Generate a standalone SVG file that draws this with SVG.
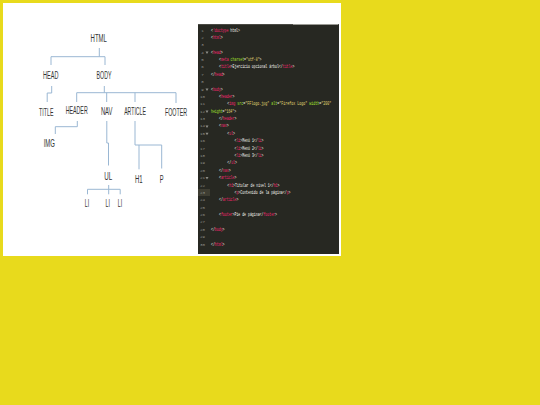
<svg xmlns="http://www.w3.org/2000/svg" width="540" height="405" viewBox="0 0 540 405">
<style>
.n{font-family:"Liberation Sans",Arial,sans-serif;font-size:11.5px;fill:#333333;text-anchor:middle}
.c{stroke:#9ab7d3;stroke-width:1;fill:none}
.code text{font-family:"Liberation Mono","DejaVu Sans Mono",monospace;font-size:4.6px;fill:#f8f8f2}
.ln{font-family:"Liberation Mono","DejaVu Sans Mono",monospace;font-size:4.2px;fill:#8f908a;text-anchor:middle}
.code text.t{fill:#f92672}
.code text.a{fill:#a6e22e}
.code text.s{fill:#e6db74}
</style>
<rect x="0" y="0" width="540" height="405" fill="#e8da1c"/>
<rect x="3" y="3" width="338" height="253" fill="#ffffff"/>

<g id="connectors">
<path class="c" d="M99.3 48 V56.7 M51 56.7 H105 M51 56.7 V65 M105 56.7 V65"/>
<path class="c" d="M51.7 86 V93 H47.2 V102"/>
<path class="c" d="M104.3 86 V92.7 M76.7 92.7 H176 M76.7 92.7 V102 M106.7 92.7 V102 M135 92.7 V102 M176 92.7 V103"/>
<path class="c" d="M77.3 121 V126.7 H55.3 V134"/>
<path class="c" d="M106.8 121 V143 H108.5 V165.5"/>
<path class="c" d="M135 121 V145 H161.7 V168.5 M139 145 V169.3"/>
<path class="c" d="M108.7 185 V189.3 M87.5 189.3 H120.2 M87.5 189.3 V194.3 M108.7 189.3 V194.3 M120.2 189.3 V194.3"/>
</g>

<g id="html" transform="translate(98.7 41.6) scale(0.52 1)"><text class="n">HTML</text></g>
<g id="head" transform="translate(50.7 79.1) scale(0.48 1)"><text class="n">HEAD</text></g>
<g id="body" transform="translate(104 79) scale(0.46 1)"><text class="n">BODY</text></g>
<g id="title" transform="translate(46.3 115.8) scale(0.46 1)"><text class="n">TITLE</text></g>
<g id="header" transform="translate(76.7 114.1) scale(0.46 1)"><text class="n">HEADER</text></g>
<g id="nav" transform="translate(106.7 114.8) scale(0.51 1)"><text class="n">NAV</text></g>
<g id="article" transform="translate(135 115.1) scale(0.45 1)"><text class="n">ARTICLE</text></g>
<g id="footer" transform="translate(176 116.1) scale(0.465 1)"><text class="n">FOOTER</text></g>
<g id="img" transform="translate(49.3 147.4) scale(0.52 1)"><text class="n">IMG</text></g>
<g id="ul" transform="translate(108.3 180.1) scale(0.54 1)"><text class="n">UL</text></g>
<g id="h1" transform="translate(138.7 183.1) scale(0.52 1)"><text class="n">H1</text></g>
<g id="p" transform="translate(161.7 183.1) scale(0.5 1)"><text class="n">P</text></g>
<g id="li1" transform="translate(87 207.4) scale(0.45 1)"><text class="n">LI</text></g>
<g id="li2" transform="translate(107.7 207.4) scale(0.45 1)"><text class="n">LI</text></g>
<g id="li3" transform="translate(120 207.4) scale(0.45 1)"><text class="n">LI</text></g>

<g id="code-panel">
<rect x="198" y="24" width="141" height="230" fill="#272822"/>
<rect x="198" y="24" width="141" height="1" fill="#4a4a44"/>
<rect x="293" y="24" width="45" height="1" fill="#9a9a94"/>
<rect x="198" y="189" width="12" height="7" fill="#3e3d32"/>
<g class="ln">
<text x="202.5" y="31.5">1</text><text x="202.5" y="38.9">2</text><text x="202.5" y="46.3">3</text>
<text x="202.5" y="53.6">4</text><text x="202.5" y="61.0">5</text><text x="202.5" y="68.4">6</text>
<text x="202.5" y="75.8">7</text><text x="202.5" y="83.2">8</text><text x="202.5" y="90.5">9</text>
<text x="202.5" y="97.9">10</text><text x="202.5" y="105.3">11</text><text x="202.5" y="112.7">12</text>
<text x="202.5" y="120.1">13</text><text x="202.5" y="127.4">14</text><text x="202.5" y="134.8">15</text>
<text x="202.5" y="142.2">16</text><text x="202.5" y="149.6">17</text><text x="202.5" y="157.0">18</text>
<text x="202.5" y="164.3">19</text><text x="202.5" y="171.7">20</text><text x="202.5" y="179.1">21</text>
<text x="202.5" y="186.5">22</text><text x="202.5" y="193.8">23</text><text x="202.5" y="201.2">24</text>
<text x="202.5" y="208.6">25</text><text x="202.5" y="216.0">26</text><text x="202.5" y="223.4">27</text>
<text x="202.5" y="230.7">28</text><text x="202.5" y="238.1">29</text><text x="202.5" y="245.5">30</text>
</g>
<g fill="#8f908a">
<polygon points="205.5,51.5 208.5,51.5 207,54"/>
<polygon points="205.5,88.5 208.5,88.5 207,91"/>
<polygon points="205.5,110.6 208.5,110.6 207,113.1"/>
<polygon points="205.5,125.4 208.5,125.4 207,127.9"/>
<polygon points="205.5,132.8 208.5,132.8 207,135.3"/>
<polygon points="205.5,177.1 208.5,177.1 207,179.6"/>
</g>
<g class="code">
<g transform="translate(211 31.5) scale(0.7 1)"><text x="0">&lt;</text><text class="t" x="2.76">!doctype</text><text x="27.6">html&gt;</text></g>
<g transform="translate(211 38.9) scale(0.7 1)"><text x="0">&lt;</text><text class="t" x="2.76">html</text><text x="13.8">&gt;</text></g>
<g transform="translate(211 53.6) scale(0.7 1)"><text x="0">&lt;</text><text class="t" x="2.76">head</text><text x="13.8">&gt;</text></g>
<g transform="translate(219 61.0) scale(0.7 1)"><text x="0">&lt;</text><text class="t" x="2.76">meta</text><text class="a" x="16.56">charset</text><text x="35.88">=</text><text class="s" x="38.64">"utf-8"</text><text x="57.96">&gt;</text></g>
<g transform="translate(219 68.4) scale(0.7 1)"><text x="0">&lt;</text><text class="t" x="2.76">title</text><text x="16.56">&gt;Ejercicio opcional árbol&lt;/</text><text class="t" x="91.08">title</text><text x="104.88">&gt;</text></g>
<g transform="translate(211 75.8) scale(0.7 1)"><text x="0">&lt;/</text><text class="t" x="5.52">head</text><text x="16.56">&gt;</text></g>
<g transform="translate(211 90.5) scale(0.7 1)"><text x="0">&lt;</text><text class="t" x="2.76">body</text><text x="13.8">&gt;</text></g>
<g transform="translate(219 97.9) scale(0.7 1)"><text x="0">&lt;</text><text class="t" x="2.76">header</text><text x="19.32">&gt;</text></g>
<g transform="translate(227.3 105.3) scale(0.725 1)"><text x="0">&lt;</text><text class="t" x="2.76">img</text><text class="a" x="13.8">src</text><text x="22.08">=</text><text class="s" x="24.84">"FFlogo.jpg"</text><text class="a" x="60.72">alt</text><text x="69">=</text><text class="s" x="71.76">"Firefox Logo"</text><text class="a" x="113.16">width</text><text x="126.96">=</text><text class="s" x="129.72">"200"</text></g>
<g transform="translate(211 112.7) scale(0.7 1)"><text class="a" x="0">height</text><text x="16.56">=</text><text class="s" x="19.32">"164"</text><text x="33.12">&gt;</text></g>
<g transform="translate(219 120.1) scale(0.7 1)"><text x="0">&lt;/</text><text class="t" x="5.52">header</text><text x="22.08">&gt;</text></g>
<g transform="translate(219 127.4) scale(0.7 1)"><text x="0">&lt;</text><text class="t" x="2.76">nav</text><text x="11.04">&gt;</text></g>
<g transform="translate(227.3 134.8) scale(0.7 1)"><text x="0">&lt;</text><text class="t" x="2.76">ul</text><text x="8.28">&gt;</text></g>
<g transform="translate(234.5 142.2) scale(0.7 1)"><text x="0">&lt;</text><text class="t" x="2.76">li</text><text x="8.28">&gt;Menú 1&lt;/</text><text class="t" x="33.12">li</text><text x="38.64">&gt;</text></g>
<g transform="translate(234.5 149.6) scale(0.7 1)"><text x="0">&lt;</text><text class="t" x="2.76">li</text><text x="8.28">&gt;Menú 2&lt;/</text><text class="t" x="33.12">li</text><text x="38.64">&gt;</text></g>
<g transform="translate(234.5 157.0) scale(0.7 1)"><text x="0">&lt;</text><text class="t" x="2.76">li</text><text x="8.28">&gt;Menú 3&lt;/</text><text class="t" x="33.12">li</text><text x="38.64">&gt;</text></g>
<g transform="translate(227.3 164.3) scale(0.7 1)"><text x="0">&lt;/</text><text class="t" x="5.52">ul</text><text x="11.04">&gt;</text></g>
<g transform="translate(219 171.7) scale(0.7 1)"><text x="0">&lt;/</text><text class="t" x="5.52">nav</text><text x="13.8">&gt;</text></g>
<g transform="translate(219 179.1) scale(0.7 1)"><text x="0">&lt;</text><text class="t" x="2.76">article</text><text x="22.08">&gt;</text></g>
<g transform="translate(227.3 186.5) scale(0.7 1)"><text x="0">&lt;</text><text class="t" x="2.76">h1</text><text x="8.28">&gt;Titular de nivel 1&lt;/</text><text class="t" x="66.24">h1</text><text x="71.76">&gt;</text></g>
<g transform="translate(234.5 193.8) scale(0.7 1)"><text x="0">&lt;</text><text class="t" x="2.76">p</text><text x="5.52">&gt;Contenido de la página&lt;/</text><text class="t" x="74.52">p</text><text x="77.28">&gt;</text></g>
<g transform="translate(219 201.2) scale(0.7 1)"><text x="0">&lt;/</text><text class="t" x="5.52">article</text><text x="24.84">&gt;</text></g>
<g transform="translate(219 216.0) scale(0.7 1)"><text x="0">&lt;</text><text class="t" x="2.76">footer</text><text x="19.32">&gt;Pie de página&lt;/</text><text class="t" x="63.48">footer</text><text x="80.04">&gt;</text></g>
<g transform="translate(211 230.7) scale(0.7 1)"><text x="0">&lt;/</text><text class="t" x="5.52">body</text><text x="16.56">&gt;</text></g>
<g transform="translate(211 245.5) scale(0.7 1)"><text x="0">&lt;/</text><text class="t" x="5.52">html</text><text x="16.56">&gt;</text></g>
</g>
</g>
</svg>
